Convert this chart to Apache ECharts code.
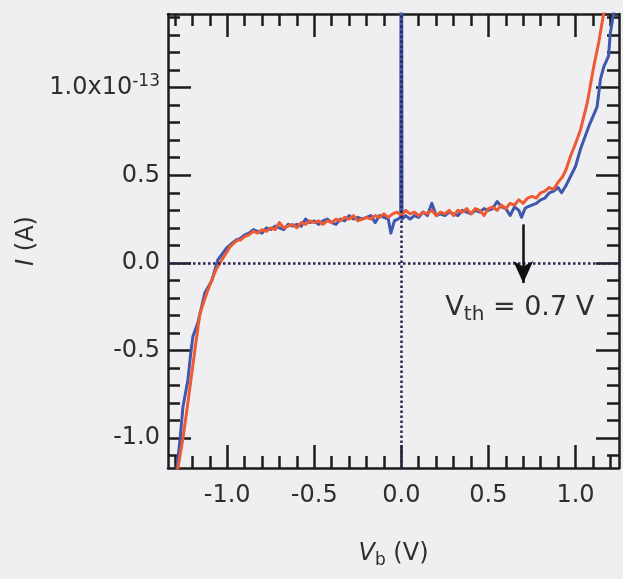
<!DOCTYPE html>
<html>
<head>
<meta charset="utf-8">
<script src="https://cdn.jsdelivr.net/npm/echarts@6/dist/echarts.min.js"></script>
<style>
  html, body { margin: 0; padding: 0; background: #efeff1; }
  #chart { width: 623px; height: 579px; }
</style>
</head>
<body>
<div id="chart"></div>
<script>
// Bias voltage V_b (V) vs. current I (units of 1e-13 A)
const blueCurve = [
  [-1.30, -1.30], [-1.289, -1.17], [-1.271, -1.01], [-1.254, -0.82], [-1.226, -0.67],
  [-1.21, -0.52], [-1.197, -0.42], [-1.168, -0.34], [-1.128, -0.17], [-1.088, -0.10],
  [-1.054, 0.017], [-1.003, 0.086], [-0.975, 0.11], [-0.95, 0.13],
  [-0.925, 0.14], [-0.900, 0.16], [-0.875, 0.17], [-0.850, 0.19], [-0.825, 0.18],
  [-0.800, 0.17], [-0.775, 0.20], [-0.750, 0.19], [-0.725, 0.21], [-0.700, 0.20],
  [-0.675, 0.19], [-0.650, 0.22], [-0.625, 0.21], [-0.600, 0.22], [-0.575, 0.21],
  [-0.550, 0.25], [-0.525, 0.23], [-0.500, 0.24], [-0.475, 0.22], [-0.450, 0.24],
  [-0.425, 0.25], [-0.400, 0.23], [-0.375, 0.22], [-0.350, 0.25], [-0.325, 0.24],
  [-0.300, 0.27], [-0.275, 0.25], [-0.250, 0.26], [-0.225, 0.25], [-0.200, 0.26],
  [-0.175, 0.27], [-0.150, 0.23], [-0.125, 0.27], [-0.100, 0.26], [-0.075, 0.25],
  [-0.060, 0.17], [-0.040, 0.24], [-0.020, 0.25], [-0.004, 0.26], [0.000, 3.0],
  [0.004, 0.25], [0.025, 0.27], [0.050, 0.25], [0.075, 0.27], [0.100, 0.26],
  [0.125, 0.29], [0.150, 0.27], [0.175, 0.34], [0.200, 0.27], [0.225, 0.28],
  [0.250, 0.27], [0.275, 0.29], [0.300, 0.28], [0.325, 0.27], [0.350, 0.30],
  [0.375, 0.29], [0.400, 0.28], [0.425, 0.30], [0.450, 0.29], [0.475, 0.31],
  [0.500, 0.30], [0.525, 0.31], [0.550, 0.35], [0.575, 0.32], [0.600, 0.31],
  [0.625, 0.27], [0.650, 0.32], [0.675, 0.30], [0.690, 0.26], [0.710, 0.31],
  [0.725, 0.32], [0.750, 0.33], [0.775, 0.34], [0.800, 0.36], [0.825, 0.37],
  [0.850, 0.40], [0.875, 0.41], [0.900, 0.43], [0.920, 0.40], [0.945, 0.44],
  [0.970, 0.49], [1.000, 0.55], [1.029, 0.65], [1.077, 0.78], [1.124, 0.89],
  [1.144, 1.05], [1.163, 1.12], [1.190, 1.18], [1.200, 1.31], [1.220, 1.43],
  [1.230, 1.55]
];

const redCurve = [
  [-1.30, -1.30], [-1.283, -1.17], [-1.254, -1.00], [-1.226, -0.80], [-1.186, -0.50],
  [-1.157, -0.29], [-1.12, -0.18], [-1.09, -0.10], [-1.065, -0.04], [-1.042, 0.00],
  [-1.01, 0.05], [-0.985, 0.09], [-0.96, 0.115], [-0.94, 0.13],
  [-0.925, 0.13], [-0.900, 0.15], [-0.875, 0.16], [-0.850, 0.18], [-0.825, 0.17],
  [-0.800, 0.19], [-0.775, 0.18], [-0.750, 0.20], [-0.725, 0.19], [-0.700, 0.23],
  [-0.675, 0.20], [-0.650, 0.21], [-0.625, 0.22], [-0.600, 0.20], [-0.575, 0.23],
  [-0.550, 0.22], [-0.525, 0.24], [-0.500, 0.23], [-0.475, 0.24], [-0.450, 0.22],
  [-0.425, 0.24], [-0.400, 0.23], [-0.375, 0.25], [-0.350, 0.24], [-0.325, 0.26],
  [-0.300, 0.25], [-0.275, 0.27], [-0.250, 0.24], [-0.225, 0.25], [-0.200, 0.26],
  [-0.175, 0.25], [-0.150, 0.27], [-0.125, 0.26], [-0.100, 0.28], [-0.075, 0.26],
  [-0.050, 0.28], [-0.025, 0.29], [0.000, 0.27], [0.025, 0.30], [0.050, 0.28],
  [0.075, 0.29], [0.100, 0.27], [0.125, 0.29], [0.150, 0.28], [0.175, 0.30],
  [0.200, 0.27], [0.225, 0.29], [0.250, 0.28], [0.275, 0.30], [0.300, 0.27],
  [0.325, 0.30], [0.350, 0.29], [0.375, 0.31], [0.400, 0.28], [0.425, 0.31],
  [0.450, 0.30], [0.475, 0.27], [0.500, 0.31], [0.525, 0.32], [0.550, 0.30],
  [0.575, 0.33], [0.600, 0.31], [0.625, 0.34], [0.650, 0.33], [0.675, 0.36],
  [0.700, 0.34], [0.725, 0.37], [0.750, 0.38], [0.775, 0.37], [0.800, 0.40],
  [0.825, 0.41], [0.850, 0.43], [0.875, 0.42], [0.900, 0.46], [0.925, 0.49],
  [0.945, 0.53], [0.972, 0.61], [1.000, 0.68], [1.029, 0.76], [1.067, 0.91],
  [1.105, 1.12], [1.134, 1.26], [1.163, 1.43], [1.180, 1.55]
];

// Axis ranges and tick positions
const xRange = [-1.34, 1.25];
const yRange = [-1.17, 1.42];
const xMajorTicks = [-1.0, -0.5, 0.0, 0.5, 1.0];
const xMinorTicks = [-1.3, -1.2, -1.1, -0.9, -0.8, -0.7, -0.6, -0.4, -0.3, -0.2, -0.1,
                     0.1, 0.2, 0.3, 0.4, 0.6, 0.7, 0.8, 0.9, 1.1, 1.2];
const yMajorTicks = [-1.0, -0.5, 0.0, 0.5, 1.0];
const yMinorTicks = [-1.1, -0.9, -0.8, -0.7, -0.6, -0.4, -0.3, -0.2, -0.1,
                     0.1, 0.2, 0.3, 0.4, 0.6, 0.7, 0.8, 0.9, 1.1, 1.2, 1.3, 1.4];

// Threshold marker
const vThreshold = 0.7;
const arrowSpan = [0.22, -0.115];
const thresholdText = 'V{sub|th} = 0.7 V';
const thresholdTextAt = [0.68, -0.255];

const FONT = 'DejaVu Sans';
const INK = '#1c1c1c';
const TEXT = '#2e2e2e';
const BLUE = '#3f57ad';
const RED = '#ee5a34';
const DOT = '#2e2452';

function fmtX(v) {
  return v.toFixed(1);
}
function fmtY(v) {
  if (Math.abs(v - 1.0) < 1e-9) return '1.0x10{sup|-13}';
  return v.toFixed(1);
}

function axis(kind, pos, ticks, len, withLine, withLabels) {
  const isX = kind === 'x';
  const range = isX ? xRange : yRange;
  return {
    type: 'value',
    position: pos,
    min: range[0],
    max: range[1],
    scale: true,
    splitLine: { show: false },
    axisLine: { show: withLine, onZero: false, lineStyle: { color: INK, width: 2.5 } },
    axisTick: {
      show: true, inside: true, length: len, customValues: ticks,
      lineStyle: { color: INK, width: 2.5 }
    },
    axisLabel: withLabels ? {
      show: true,
      customValues: ticks,
      formatter: isX ? fmtX : fmtY,
      margin: isX ? 16 : 8,
      color: TEXT,
      fontFamily: FONT,
      fontSize: 24,
      rich: {
        sup: { fontFamily: FONT, fontSize: 17, color: TEXT, padding: [0, 0, 12, 0] }
      }
    } : { show: false }
  };
}

const xAxes = [
  axis('x', 'bottom', xMajorTicks, 23, true, true),
  axis('x', 'bottom', xMinorTicks, 12, false, false),
  axis('x', 'top', xMajorTicks, 23, true, false),
  axis('x', 'top', xMinorTicks, 12, false, false)
];
const yAxes = [
  axis('y', 'left', yMajorTicks, 23, true, true),
  axis('y', 'left', yMinorTicks, 12, false, false),
  axis('y', 'right', yMajorTicks, 23, true, false),
  axis('y', 'right', yMinorTicks, 12, false, false)
];

xAxes[0].name = '{i|V}{sub|b} (V)';
xAxes[0].nameLocation = 'middle';
xAxes[0].nameGap = 70;
xAxes[0].nameTextStyle = {
  fontFamily: FONT, fontSize: 24, color: TEXT,
  rich: {
    i: { fontFamily: FONT, fontSize: 24, fontStyle: 'italic', color: TEXT },
    sub: { fontFamily: FONT, fontSize: 17, color: TEXT, padding: [14, 0, 0, 0] }
  }
};
yAxes[0].name = '{i|I} (A)';
yAxes[0].nameLocation = 'middle';
yAxes[0].nameRotate = 90;
yAxes[0].nameGap = 118;
yAxes[0].nameTextStyle = {
  fontFamily: FONT, fontSize: 24, color: TEXT,
  rich: { i: { fontFamily: FONT, fontSize: 24, fontStyle: 'italic', color: TEXT } }
};

const chart = echarts.init(document.getElementById('chart'), null, { renderer: 'canvas' });

chart.setOption({
  backgroundColor: '#efeff1',
  animation: false,
  grid: { left: 168, right: 4, top: 14, bottom: 111, containLabel: false, outerBoundsMode: 'none' },
  xAxis: xAxes,
  yAxis: yAxes,
  series: [
    {
      name: 'zero lines',
      type: 'line',
      data: [],
      z: 1,
      markLine: {
        silent: true,
        symbol: ['none', 'none'],
        label: { show: false },
        lineStyle: { color: DOT, width: 2.5, type: [2.5, 2.5] },
        data: [
          [{ coord: [xRange[0], 0] }, { coord: [xRange[1], 0] }],
          [{ coord: [0, yRange[0]] }, { coord: [0, yRange[1]] }]
        ]
      }
    },
    {
      name: 'sweep 1',
      type: 'line',
      data: blueCurve,
      showSymbol: false,
      symbol: 'none',
      z: 3,
      lineStyle: { color: BLUE, width: 3, join: 'round' }
    },
    {
      name: 'sweep 2',
      type: 'line',
      data: redCurve,
      showSymbol: false,
      symbol: 'none',
      z: 4,
      lineStyle: { color: RED, width: 3, join: 'round' }
    },
    {
      name: 'threshold',
      type: 'line',
      data: [],
      z: 5,
      markLine: {
        silent: true,
        symbol: ['none', 'arrow'],
        symbolSize: [15, 22],
        label: { show: false },
        lineStyle: { color: '#111', width: 2.5, type: 'solid' },
        data: [
          [{ coord: [vThreshold, arrowSpan[0]] }, { coord: [vThreshold, arrowSpan[1]] }]
        ]
      },
      markPoint: {
        silent: true,
        symbol: 'rect',
        symbolSize: 1,
        itemStyle: { color: 'rgba(0,0,0,0)' },
        label: {
          show: true,
          position: 'inside',
          formatter: thresholdText,
          color: TEXT,
          fontFamily: FONT,
          fontSize: 27,
          rich: {
            sub: { fontFamily: FONT, fontSize: 20, color: TEXT, padding: [14, 0, 0, 0] }
          }
        },
        data: [{ coord: thresholdTextAt }]
      }
    }
  ]
});
</script>
</body>
</html>
